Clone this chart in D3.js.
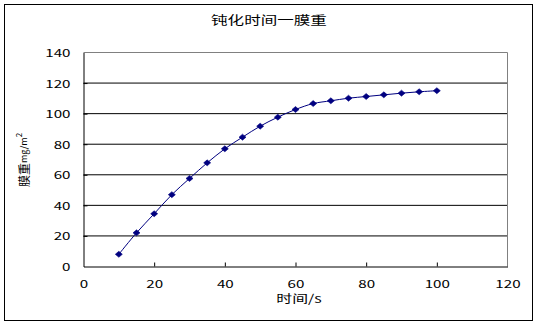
<!DOCTYPE html>
<html>
<head>
<meta charset="utf-8">
<script src="https://cdn.jsdelivr.net/npm/d3@7"></script>
<style>
  html, body { margin: 0; padding: 0; background: #fff; }
  svg { display: block; }
  text { font-family: "Noto Sans CJK SC", "Noto Sans", sans-serif; fill: #000; }
</style>
</head>
<body>
<svg id="chart" width="537" height="326"></svg>
<script>
// Passivation time (s) vs. film weight (mg/m²)
const times = [10, 15, 20, 25, 30, 35, 40, 45, 50, 55, 60, 65, 70, 75, 80, 85, 90, 95, 100];
const weights = [8, 22, 34.5, 47, 57.6, 67.8, 77, 84.6, 91.8, 97.7, 102.7, 106.6, 108.4, 110.1, 111.2, 112.3, 113.4, 114.3, 115];
const xTicks = [0, 20, 40, 60, 80, 100, 120];
const yTicks = [0, 20, 40, 60, 80, 100, 120, 140];
const titleText = "钝化时间一膜重";
const xTitle = "时间/s";

const svg = d3.select("#chart");
const stretch = 1.38; // wide glyph look of the labels

// outer frame
svg.append("rect")
  .attr("x", 4.5).attr("y", 4.5)
  .attr("width", 528).attr("height", 316)
  .attr("fill", "#fff").attr("stroke", "#000").attr("stroke-width", 1);

const plot = { left: 83.5, right: 507.5, top: 52.5, bottom: 266.5 };
const x = d3.scaleLinear().domain([0, 120]).range([plot.left, plot.right]);
const y = d3.scaleLinear().domain([0, 140]).range([plot.bottom, plot.top]);

// horizontal gridlines
svg.append("g").selectAll("line")
  .data(yTicks.filter(v => v > 0 && v < 140))
  .join("line")
  .attr("x1", plot.left).attr("x2", plot.right)
  .attr("y1", d => y(d)).attr("y2", d => y(d))
  .attr("stroke", "#000").attr("stroke-width", 1);

// plot area border (top and right in grey)
svg.append("path")
  .attr("d", `M${plot.left},${plot.top}H${plot.right}V${plot.bottom}`)
  .attr("fill", "none").attr("stroke", "#808080").attr("stroke-width", 1);

// axes with inward ticks
const yAxis = svg.append("g")
  .attr("transform", `translate(${plot.left},0)`)
  .call(d3.axisLeft(y).tickValues(yTicks).tickSize(-4).tickPadding(13).tickSizeOuter(0));
const xAxis = svg.append("g")
  .attr("transform", `translate(0,${plot.bottom})`)
  .call(d3.axisBottom(x).tickValues(xTicks).tickSize(-4).tickPadding(13).tickSizeOuter(0));

[yAxis, xAxis].forEach(g => {
  g.select(".domain").attr("stroke", "#000");
  g.selectAll(".tick line").attr("stroke", "#000");
  g.selectAll(".tick text")
    .attr("font-size", 11)
    .attr("font-family", "\"Noto Sans CJK SC\", sans-serif")
    .attr("fill", "#000");
});
yAxis.selectAll(".tick text")
  .attr("x", 0)
  .attr("transform", `translate(-13,0.5) scale(${stretch},1)`);
xAxis.selectAll(".tick text")
  .attr("y", 0)
  .attr("transform", `translate(0,13.5) scale(${stretch},1)`);
// hide ticks at the plot corners where the frame already is
yAxis.selectAll(".tick line").filter(d => d === 0 || d === 140).remove();
xAxis.selectAll(".tick line").filter(d => d === 0 || d === 120).remove();

// title
svg.append("text")
  .attr("transform", `translate(269,20) scale(${stretch},1)`)
  .attr("text-anchor", "middle").attr("dominant-baseline", "central")
  .attr("font-size", 12)
  .text(titleText);

// x axis title
svg.append("text")
  .attr("transform", `translate(299,298) scale(${stretch},1)`)
  .attr("text-anchor", "middle").attr("dominant-baseline", "central")
  .attr("font-size", 11.5)
  .text(xTitle);

// y axis title: 膜重mg/m²
const yTitle = svg.append("text")
  .attr("transform", "translate(23,160) rotate(-90)")
  .attr("text-anchor", "middle").attr("dominant-baseline", "central")
  .attr("font-size", 12);
yTitle.append("tspan").text("膜重");
yTitle.append("tspan").attr("font-size", 9).text("mg/m");
yTitle.append("tspan").attr("font-size", 8).attr("dy", -5).text("2");

// series line
const pts = times.map((t, i) => [t, weights[i]]);
svg.append("path")
  .datum(pts)
  .attr("fill", "none")
  .attr("stroke", "#000080")
  .attr("stroke-width", 1)
  .attr("d", d3.line().x(d => x(d[0])).y(d => y(d[1])).curve(d3.curveCatmullRom));

// diamond markers
svg.append("g").selectAll("path")
  .data(pts)
  .join("path")
  .attr("transform", d => `translate(${x(d[0])},${y(d[1])})`)
  .attr("d", "M0,-3L3.5,0L0,3L-3.5,0Z")
  .attr("fill", "#000080")
  .attr("stroke", "#000080")
  .attr("stroke-width", 0.6);
</script>
</body>
</html>
